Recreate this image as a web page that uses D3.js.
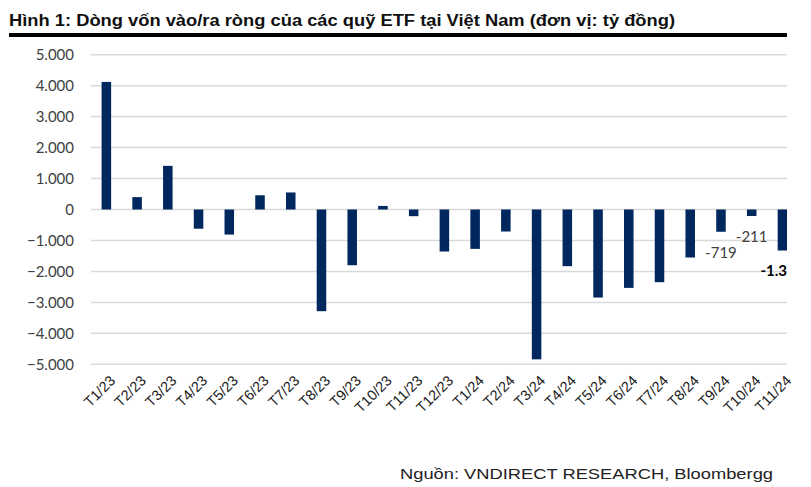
<!DOCTYPE html>
<html>
<head>
<meta charset="utf-8">
<script src="https://cdn.jsdelivr.net/npm/d3@7"></script>
<style>
  html, body { margin: 0; padding: 0; background: #fff; }
  svg { display: block; }
</style>
</head>
<body>
<svg id="chart" width="811" height="487"></svg>
<script>
const categories = ["T1/23","T2/23","T3/23","T4/23","T5/23","T6/23","T7/23","T8/23","T9/23","T10/23","T11/23","T12/23",
                    "T1/24","T2/24","T3/24","T4/24","T5/24","T6/24","T7/24","T8/24","T9/24","T10/24","T11/24"];
const values = [4120, 400, 1410, -620, -810, 460, 550, -3285, -1800, 115, -216, -1357,
                -1272, -711, -4840, -1830, -2843, -2532, -2348, -1550, -719, -211, -1325];
const yTicks = [5000, 4000, 3000, 2000, 1000, 0, -1000, -2000, -3000, -4000, -5000];
const labelled = [
  { cat: "T9/24",  text: "-719",   bold: false },
  { cat: "T10/24", text: "-211",   bold: false },
  { cat: "T11/24", text: "-1.325", bold: true }
];
const titleText = "Hình 1: Dòng vốn vào/ra ròng của các quỹ ETF tại Việt Nam (đơn vị: tỷ đồng)";
const sourceText = "Nguồn: VNDIRECT RESEARCH, Bloombergg";

const svg = d3.select("#chart");
const fmt = v => d3.format(",")(v).replace(/,/g, ".");

const plotLeft = 91, plotRight = 787, clipRight = 787;
const x = d3.scaleBand().domain(categories).range([plotLeft, plotLeft + 23 * 30.73])
  .paddingInner(0.69).paddingOuter(0.345);
const y = d3.scaleLinear().domain([-5000, 5000]).range([364.3, 54.7]);

// Title
svg.append("text")
  .attr("x", 9).attr("y", 26)
  .attr("font-family", "'Liberation Sans Narrow', 'Liberation Sans', Arial, sans-serif")
  .attr("font-weight", "bold").attr("font-size", 16)
  .attr("fill", "#111")
  .attr("textLength", 666).attr("lengthAdjust", "spacingAndGlyphs")
  .text(titleText);
svg.append("rect").attr("x", 9).attr("y", 33).attr("width", 778).attr("height", 4).attr("fill", "#000");

// Clip
svg.append("defs").append("clipPath").attr("id", "clip")
  .append("rect").attr("x", 0).attr("y", 40).attr("width", clipRight).attr("height", 400);

// Gridlines
const grid = svg.append("g");
grid.selectAll("line").data(yTicks).join("line")
  .attr("x1", plotLeft).attr("x2", plotRight)
  .attr("y1", d => y(d)).attr("y2", d => y(d))
  .attr("stroke", "#d9d9d9").attr("stroke-width", 1.5);

// Y axis labels
const yAxis = d3.axisLeft(y).tickValues(yTicks).tickFormat(fmt).tickSize(0).tickPadding(0);
const yg = svg.append("g").attr("transform", "translate(74,0)").call(yAxis);
yg.select(".domain").remove();
yg.selectAll("text")
  .attr("font-family", "Lato, 'Open Sans', sans-serif").attr("font-size", 15)
  .attr("fill", "#404040").attr("dy", "0.34em");

// Bars
const plot = svg.append("g").attr("clip-path", "url(#clip)");
plot.selectAll("rect").data(categories).join("rect")
  .attr("x", d => x(d))
  .attr("width", x.bandwidth())
  .attr("y", (d, i) => y(Math.max(0, values[i])))
  .attr("height", (d, i) => Math.abs(y(values[i]) - y(0)))
  .attr("fill", "#00285e");

// Data labels
const labelOffsets = { "T9/24": 20.5, "T10/24": 20.5, "T11/24": 20 };
plot.selectAll("text.dl").data(labelled).join("text")
  .attr("class", "dl")
  .attr("x", d => x(d.cat) + x.bandwidth() / 2)
  .attr("y", d => y(values[categories.indexOf(d.cat)]) + labelOffsets[d.cat])
  .attr("dy", "0.35em")
  .attr("text-anchor", "middle")
  .attr("font-family", "Lato, 'Open Sans', sans-serif")
  .attr("font-size", 15)
  .attr("font-weight", d => d.bold ? "bold" : "normal")
  .attr("fill", d => d.bold ? "#000" : "#404040")
  .text(d => d.text);

// X axis labels
const xAxis = d3.axisBottom(x).tickSize(0).tickPadding(0);
const xg = svg.append("g").attr("transform", "translate(0,377)").call(xAxis);
xg.select(".domain").remove();
xg.selectAll("text")
  .attr("font-family", "'Liberation Sans', Arial, sans-serif").attr("font-size", 14.5)
  .attr("fill", "#1a1a1a")
  .attr("text-anchor", "end")
  .attr("dy", "0.7em").attr("dx", "0.25em")
  .attr("transform", "rotate(-45)");

// Source
svg.append("text")
  .attr("x", 400).attr("y", 479)
  .attr("font-family", "'Liberation Sans', Arial, sans-serif").attr("font-size", 15.5)
  .attr("fill", "#222")
  .attr("textLength", 373).attr("lengthAdjust", "spacingAndGlyphs")
  .text(sourceText);
</script>
</body>
</html>
